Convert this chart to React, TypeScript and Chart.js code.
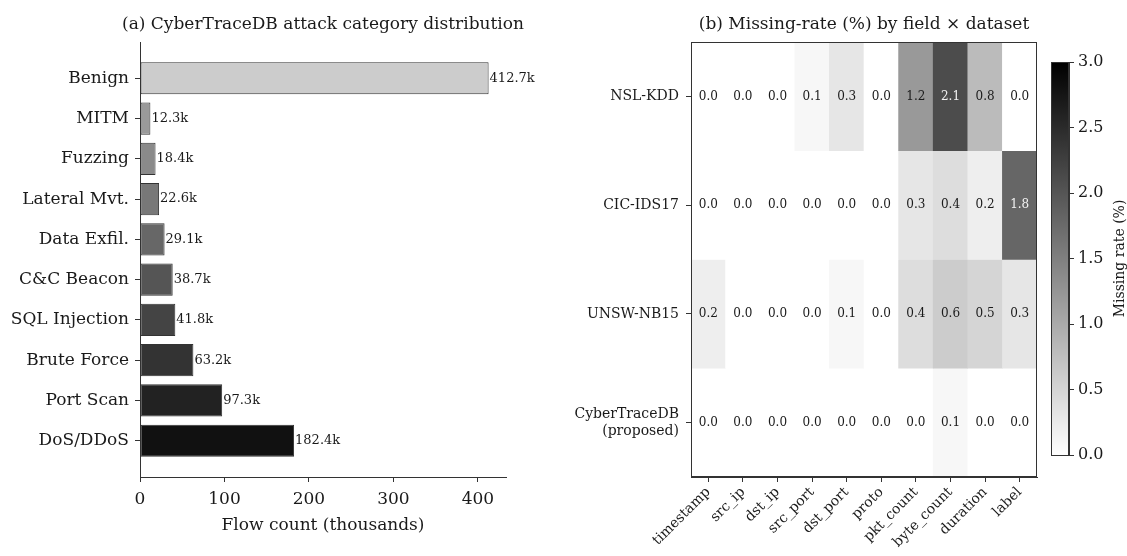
import React, { useEffect, useRef } from 'react';
import { Chart, registerables } from 'chart.js';

Chart.register(...registerables);

const FONT = '"DejaVu Serif", "Liberation Serif", serif';
const TEXT = '#1a1a1a';
const AXIS = '#333333';

// ---- Panel (a): attack category distribution ----
const categories = [
  'Benign', 'MITM', 'Fuzzing', 'Lateral Mvt.', 'Data Exfil.',
  'C&C Beacon', 'SQL Injection', 'Brute Force', 'Port Scan', 'DoS/DDoS',
];
const flowCounts = [412.7, 12.3, 18.4, 22.6, 29.1, 38.7, 41.8, 63.2, 97.3, 182.4];
const barColors = [
  '#cccccc', '#9a9a9a', '#8a8a8a', '#787878', '#676767',
  '#555555', '#444444', '#333333', '#222222', '#111111',
];
const flowTicks = [0, 100, 200, 300, 400];

// ---- Panel (b): missing-rate heatmap ----
const fields = [
  'timestamp', 'src_ip', 'dst_ip', 'src_port', 'dst_port',
  'proto', 'pkt_count', 'byte_count', 'duration', 'label',
];
const datasetNames = ['NSL-KDD', 'CIC-IDS17', 'UNSW-NB15', 'CyberTraceDB\n(proposed)'];
const nslKdd = [0.0, 0.0, 0.0, 0.1, 0.3, 0.0, 1.2, 2.1, 0.8, 0.0];
const cicIds17 = [0.0, 0.0, 0.0, 0.0, 0.0, 0.0, 0.3, 0.4, 0.2, 1.8];
const unswNb15 = [0.2, 0.0, 0.0, 0.0, 0.1, 0.0, 0.4, 0.6, 0.5, 0.3];
const cyberTraceDb = [0.0, 0.0, 0.0, 0.0, 0.0, 0.0, 0.0, 0.1, 0.0, 0.0];
const colorbarTicks = [0, 0.5, 1.0, 1.5, 2.0, 2.5, 3.0];
const V_MIN = 0;
const V_MAX = 3;

function grey(v: number): string {
  const t = Math.max(0, Math.min(1, (v - V_MIN) / (V_MAX - V_MIN)));
  const g = Math.round(255 * (1 - t));
  return `rgb(${g},${g},${g})`;
}

// Title centred over the plot area, never squeezed to its width.
function axesTitle(text: string) {
  return {
    id: 'axesTitle',
    afterDraw(chart: any) {
      const a = chart.chartArea;
      const ctx = chart.ctx;
      ctx.save();
      ctx.font = `17px ${FONT}`;
      ctx.fillStyle = TEXT;
      ctx.textAlign = 'center';
      ctx.textBaseline = 'middle';
      ctx.fillText(text, (a.left + a.right) / 2, 25);
      ctx.restore();
    },
  };
}

function BarPanel() {
  const ref = useRef<HTMLCanvasElement | null>(null);
  useEffect(() => {
    if (!ref.current) return;
    const valueLabels = {
      id: 'valueLabels',
      afterDatasetsDraw(chart: any) {
        const ctx = chart.ctx;
        const meta = chart.getDatasetMeta(0);
        ctx.save();
        ctx.font = `13px ${FONT}`;
        ctx.fillStyle = TEXT;
        ctx.textAlign = 'left';
        ctx.textBaseline = 'middle';
        meta.data.forEach((el: any, i: number) => {
          ctx.fillText(`${flowCounts[i].toFixed(1)}k`, el.x + 1, el.y);
        });
        ctx.restore();
      },
    };
    const chart = new Chart(ref.current, {
      type: 'bar',
      data: {
        datasets: [
          {
            data: flowCounts.map((v, i) => ({ x: v, y: i })),
            backgroundColor: barColors,
            borderColor: AXIS,
            borderWidth: 1,
            borderSkipped: false,
            barPercentage: 0.8,
            categoryPercentage: 1,
          } as any,
        ],
      },
      options: {
        indexAxis: 'y',
        animation: false,
        responsive: false,
        layout: { padding: { left: 0, right: 34, top: 42, bottom: 0 } },
        plugins: {
          legend: { display: false },
          tooltip: { enabled: false },
          title: { display: false },
        },
        scales: {
          x: {
            type: 'linear',
            min: 0,
            max: 433.3,
            afterBuildTicks: (s: any) => {
              s.ticks = flowTicks.map((v) => ({ value: v }));
            },
            ticks: { color: TEXT, font: { family: FONT, size: 17 }, padding: 7 },
            grid: { display: true, drawOnChartArea: false, drawTicks: true, tickLength: 5, color: AXIS },
            border: { display: true, color: AXIS, width: 1 },
            title: {
              display: true,
              text: 'Flow count (thousands)',
              color: TEXT,
              font: { family: FONT, size: 17 },
              padding: { top: 0, bottom: 20 },
            },
            afterFit: (s: any) => {
              s.height = 79;
            },
          },
          y: {
            type: 'linear',
            offset: false,
            min: -0.9,
            max: 9.9,
            reverse: true,
            afterBuildTicks: (s: any) => {
              s.ticks = categories.map((_, i) => ({ value: i }));
            },
            ticks: {
              color: TEXT,
              font: { family: FONT, size: 17 },
              padding: 6,
              callback: (v: any) => categories[Math.round(Number(v))],
            },
            grid: { display: true, offset: false, drawOnChartArea: false, drawTicks: true, tickLength: 5, color: AXIS },
            border: { display: true, color: AXIS, width: 1 },
            afterFit: (s: any) => {
              s.width = 140;
            },
          },
        },
      } as any,
      plugins: [valueLabels, axesTitle('(a) CyberTraceDB attack category distribution')],
    });
    return () => chart.destroy();
  }, []);
  return (
    <canvas
      ref={ref}
      width={540}
      height={556}
      style={{ position: 'absolute', left: 0, top: 0, width: 540, height: 556 }}
    />
  );
}

function HeatmapPanel() {
  const ref = useRef<HTMLCanvasElement | null>(null);
  useEffect(() => {
    if (!ref.current) return;
    const rows = [nslKdd, cicIds17, unswNb15, cyberTraceDb];
    const cellText = {
      id: 'cellText',
      afterDatasetsDraw(chart: any) {
        const ctx = chart.ctx;
        ctx.save();
        ctx.font = `12px ${FONT}`;
        ctx.textAlign = 'center';
        ctx.textBaseline = 'middle';
        rows.forEach((vals, r) => {
          const meta = chart.getDatasetMeta(r);
          meta.data.forEach((el: any, i: number) => {
            const p = el.getCenterPoint();
            ctx.fillStyle = vals[i] > 1.5 ? '#f2f2f2' : TEXT;
            ctx.fillText(vals[i].toFixed(1), p.x, p.y);
          });
        });
        ctx.restore();
      },
      afterDraw(chart: any) {
        const a = chart.chartArea;
        const ctx = chart.ctx;
        ctx.save();
        ctx.strokeStyle = AXIS;
        ctx.lineWidth = 1;
        ctx.strokeRect(Math.round(a.left) + 0.5, Math.round(a.top) + 0.5,
          Math.round(a.right - a.left) - 1, Math.round(a.bottom - a.top) - 1);
        ctx.restore();
      },
    };
    const chart = new Chart(ref.current, {
      type: 'bar',
      data: {
        labels: fields,
        datasets: rows.map((vals, r) => ({
          data: vals.map(() => [r - 0.5, r + 0.5]),
          backgroundColor: vals.map((v) => grey(v)),
          borderWidth: 0,
          barPercentage: 1,
          categoryPercentage: 1,
          grouped: false,
        })) as any,
      },
      options: {
        animation: false,
        responsive: false,
        layout: { padding: { left: 0, right: 13, top: 42, bottom: 0 } },
        plugins: {
          legend: { display: false },
          tooltip: { enabled: false },
          title: { display: false },
        },
        scales: {
          x: {
            type: 'category',
            offset: true,
            ticks: {
              color: TEXT,
              font: { family: FONT, size: 14 },
              autoSkip: false,
              minRotation: 45,
              maxRotation: 45,
              padding: 2,
            },
            grid: { display: true, offset: false, drawOnChartArea: false, drawTicks: true, tickLength: 5, color: AXIS },
            border: { display: true, color: AXIS, width: 1 },
            afterFit: (s: any) => {
              s.height = 79;
            },
          },
          y: {
            type: 'linear',
            min: -0.5,
            max: 3.5,
            reverse: true,
            afterBuildTicks: (s: any) => {
              s.ticks = datasetNames.map((_, i) => ({ value: i }));
            },
            ticks: {
              color: TEXT,
              font: { family: FONT, size: 14 },
              padding: 7,
              callback: (v: any) => datasetNames[Math.round(Number(v))].split('\n'),
            },
            grid: { display: true, drawOnChartArea: false, drawTicks: true, tickLength: 5, color: AXIS },
            border: { display: true, color: AXIS, width: 1 },
            afterFit: (s: any) => {
              s.width = 151;
            },
          },
        },
      } as any,
      plugins: [cellText, axesTitle('(b) Missing-rate (%) by field \u00d7 dataset')],
    });
    return () => chart.destroy();
  }, []);
  return (
    <canvas
      ref={ref}
      width={510}
      height={556}
      style={{ position: 'absolute', left: 540, top: 0, width: 510, height: 556 }}
    />
  );
}

function ColorbarPanel() {
  const ref = useRef<HTMLCanvasElement | null>(null);
  useEffect(() => {
    if (!ref.current) return;
    const bar = {
      id: 'gradientBar',
      beforeDatasetsDraw(chart: any) {
        const a = chart.chartArea;
        const ctx = chart.ctx;
        const y = chart.scales.y;
        const g = ctx.createLinearGradient(0, y.getPixelForValue(V_MIN), 0, y.getPixelForValue(V_MAX));
        g.addColorStop(0, grey(V_MIN));
        g.addColorStop(1, grey(V_MAX));
        ctx.save();
        ctx.fillStyle = g;
        ctx.fillRect(a.left, a.top, a.right - a.left, a.bottom - a.top);
        ctx.restore();
      },
      afterDraw(chart: any) {
        const a = chart.chartArea;
        const ctx = chart.ctx;
        ctx.save();
        ctx.strokeStyle = AXIS;
        ctx.lineWidth = 1;
        ctx.strokeRect(Math.round(a.left) + 0.5, Math.round(a.top) + 0.5,
          Math.round(a.right - a.left) - 1, Math.round(a.bottom - a.top));
        ctx.translate(75, (a.top + a.bottom) / 2);
        ctx.rotate(-Math.PI / 2);
        ctx.font = `14px ${FONT}`;
        ctx.fillStyle = TEXT;
        ctx.textAlign = 'center';
        ctx.textBaseline = 'middle';
        ctx.fillText('Missing rate (%)', 0, 0);
        ctx.restore();
      },
    };
    const chart = new Chart(ref.current, {
      type: 'scatter',
      data: { datasets: [{ data: [] }] },
      options: {
        animation: false,
        responsive: false,
        layout: { padding: { left: 6, right: 0, top: 62, bottom: 101 } },
        plugins: { legend: { display: false }, tooltip: { enabled: false } },
        scales: {
          x: { display: false, min: 0, max: 1 },
          y: {
            position: 'right',
            min: V_MIN,
            max: V_MAX,
            afterBuildTicks: (s: any) => {
              s.ticks = colorbarTicks.map((v) => ({ value: v }));
            },
            ticks: {
              color: TEXT,
              font: { family: FONT, size: 16 },
              padding: 4,
              callback: (v: any) => Number(v).toFixed(1),
            },
            grid: { display: true, drawOnChartArea: false, drawTicks: true, tickLength: 5, color: AXIS },
            border: { display: true, color: AXIS, width: 1 },
            afterFit: (s: any) => {
              s.width = 58;
            },
          },
        },
      } as any,
      plugins: [bar],
    });
    return () => chart.destroy();
  }, []);
  return (
    <canvas
      ref={ref}
      width={82}
      height={556}
      style={{ position: 'absolute', left: 1045, top: 0, width: 82, height: 556 }}
    />
  );
}

export default function App() {
  return (
    <div
      style={{
        position: 'absolute',
        left: 0,
        top: 0,
        width: 1127,
        height: 556,
        background: '#ffffff',
        overflow: 'hidden',
      }}
    >
      <BarPanel />
      <HeatmapPanel />
      <ColorbarPanel />
    </div>
  );
}
